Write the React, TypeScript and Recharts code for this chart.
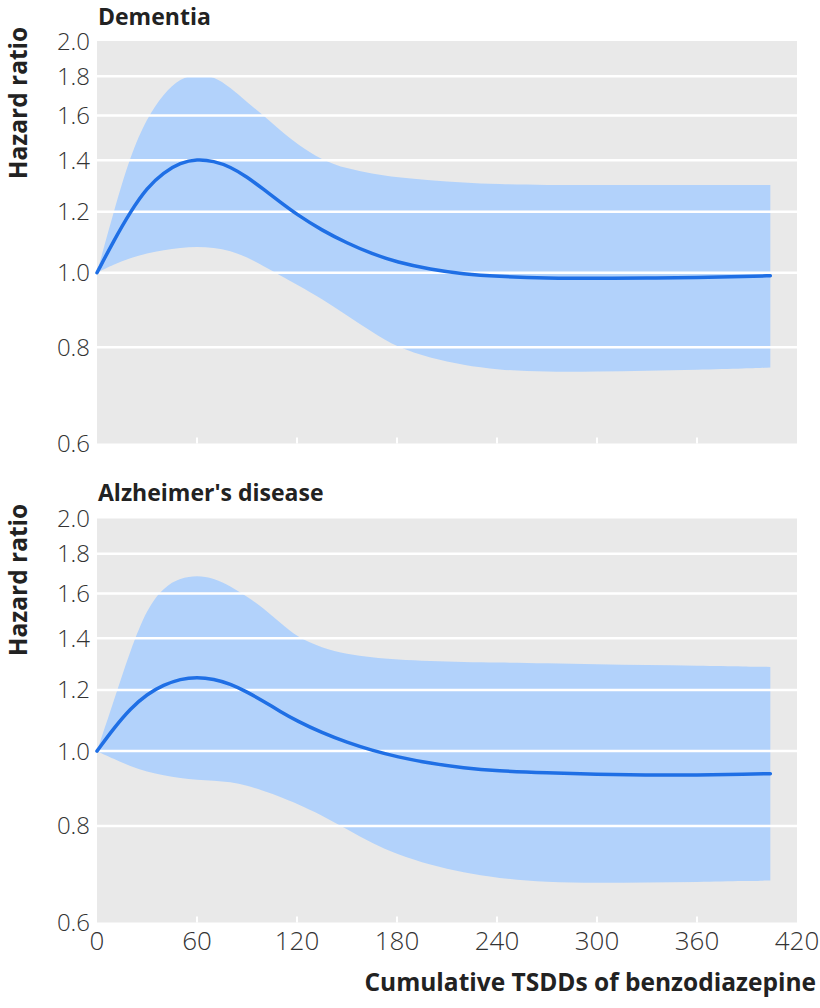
import {
  Area,
  CartesianGrid,
  ComposedChart,
  Line,
  ReferenceLine,
  XAxis,
  YAxis,
} from "recharts";

const doses = [
  0, 10, 20, 30, 40, 50, 60, 70, 80, 90, 100, 110, 120, 135, 150, 165, 180,
  200, 220, 240, 270, 300, 330, 360, 390, 404,
];

const dementiaHr = [
  1.0, 1.1, 1.2, 1.29, 1.35, 1.39, 1.405, 1.397, 1.373, 1.332, 1.283, 1.235,
  1.19, 1.135, 1.093, 1.058, 1.032, 1.01, 0.996, 0.989, 0.984, 0.983, 0.984,
  0.986, 0.989, 0.991,
];
const dementiaLow = [
  1.0, 1.025, 1.045, 1.06, 1.07, 1.078, 1.081, 1.078, 1.068, 1.048, 1.02,
  0.992, 0.965, 0.925, 0.88, 0.838, 0.8, 0.775, 0.758, 0.748, 0.743, 0.744,
  0.746, 0.748, 0.751, 0.753,
];
const dementiaHigh = [
  1.0, 1.2, 1.42, 1.59, 1.71, 1.79, 1.81, 1.8, 1.74, 1.665, 1.6, 1.53, 1.47,
  1.4, 1.365, 1.345, 1.33, 1.318, 1.31, 1.303, 1.3, 1.3, 1.3, 1.3, 1.3, 1.3,
];

const alzHr = [
  1.0, 1.07, 1.135, 1.185, 1.218, 1.24, 1.247, 1.24, 1.222, 1.193, 1.16,
  1.125, 1.094, 1.056, 1.026, 1.002, 0.983, 0.964, 0.951, 0.943, 0.937, 0.933,
  0.931, 0.931, 0.933, 0.935,
];
const alzLow = [
  1.0, 0.977, 0.956, 0.94, 0.93, 0.922, 0.918, 0.916, 0.912, 0.903, 0.888,
  0.873, 0.855, 0.826, 0.792, 0.76, 0.735, 0.712, 0.696, 0.685, 0.676, 0.675,
  0.676, 0.677, 0.679, 0.68,
];
const alzHigh = [
  1.0, 1.16, 1.35, 1.53, 1.63, 1.675, 1.688, 1.675, 1.635, 1.585, 1.53, 1.465,
  1.405, 1.36, 1.335, 1.322, 1.313, 1.307, 1.304, 1.302, 1.3, 1.295, 1.292,
  1.29, 1.287, 1.285,
];

const xTicks = [0, 60, 120, 180, 240, 300, 360, 420];
const yTicks = [0.6, 0.8, 1.0, 1.2, 1.4, 1.6, 1.8, 2.0];
const gridValues = [0.8, 1.0, 1.2, 1.4, 1.6, 1.8];

const FONT = "'Open Sans', 'Noto Sans', sans-serif";
const BG = "#e9e9e9";
const BAND = "#b2d2fb";
const LINE = "#1f6fe5";
const TEXT = "#222";

function buildRows(hr: number[], low: number[], high: number[]) {
  return doses.map((d, i) => ({ dose: d, hr: hr[i], band: [low[i], high[i]] }));
}

function DoseTick(props: any) {
  const { x, y, payload, showLabel } = props;
  const v = payload.value as number;
  const inner = v !== xTicks[0] && v !== xTicks[xTicks.length - 1];
  return (
    <g>
      {inner && (
        <line x1={x} x2={x} y1={y} y2={y - 6} stroke="#fff" strokeWidth={2} />
      )}
      {showLabel && (
        <text
          x={x}
          y={y + 9}
          dy="0.71em"
          textAnchor="middle"
          fontFamily={FONT}
          fontWeight={300}
          fontSize={26}
          fill="#333"
        >
          {v}
        </text>
      )}
    </g>
  );
}

interface PanelProps {
  rows: { dose: number; hr: number; band: number[] }[];
  height: number;
  top: number;
  xAxisHeight: number;
  showLabels: boolean;
}

function Panel({ rows, height, top, xAxisHeight, showLabels }: PanelProps) {
  return (
    <ComposedChart
      width={820}
      height={height}
      data={rows}
      margin={{ top, right: 23, bottom: 0, left: 0 }}
    >
      <CartesianGrid horizontal={false} vertical={false} fill={BG} />
      <XAxis
        dataKey="dose"
        type="number"
        domain={[0, 420]}
        ticks={xTicks}
        height={xAxisHeight}
        axisLine={false}
        tickLine={false}
        tickSize={0}
        tickMargin={0}
        interval={0}
        tick={<DoseTick showLabel={showLabels} />}
      />
      <YAxis
        scale="log"
        domain={[0.6, 2.0]}
        ticks={yTicks}
        allowDataOverflow
        width={97}
        axisLine={false}
        tickLine={false}
        tickSize={6}
        tickMargin={1}
        interval={0}
        tickFormatter={(v: number) => v.toFixed(1)}
        tick={{ fontSize: 24, fill: "#333", fontFamily: FONT, fontWeight: 300 }}
      />
      <Area
        dataKey="band"
        type="basis"
        stroke="none"
        fill={BAND}
        fillOpacity={1}
        isAnimationActive={false}
      />
      {gridValues.map((v) => (
        <ReferenceLine key={v} y={v} stroke="#fff" strokeWidth={2.5} />
      ))}
      <Line
        dataKey="hr"
        type="basis"
        stroke={LINE}
        strokeWidth={3.5}
        strokeLinecap="round"
        dot={false}
        activeDot={false}
        isAnimationActive={false}
      />
    </ComposedChart>
  );
}

export default function App() {
  const titleStyle = {
    fontFamily: FONT,
    fontWeight: 700,
    fontSize: 23,
    fill: TEXT,
  };
  return (
    <div
      style={{
        position: "absolute",
        left: 0,
        top: 0,
        width: 820,
        height: 1008,
        background: "#fff",
      }}
    >
      <div style={{ position: "absolute", left: 0, top: 0 }}>
        <Panel
          rows={buildRows(dementiaHr, dementiaLow, dementiaHigh)}
          height={470}
          top={41}
          xAxisHeight={26.5}
          showLabels={false}
        />
      </div>
      <div style={{ position: "absolute", left: 0, top: 470 }}>
        <Panel
          rows={buildRows(alzHr, alzLow, alzHigh)}
          height={538}
          top={48.5}
          xAxisHeight={85.5}
          showLabels
        />
      </div>
      <svg
        width={820}
        height={1008}
        style={{ position: "absolute", left: 0, top: 0, pointerEvents: "none" }}
      >
        <text x={98} y={25} {...titleStyle}>
          Dementia
        </text>
        <text x={98} y={501} {...titleStyle}>
          Alzheimer's disease
        </text>
        <text
          transform="translate(26.5,103) rotate(-90)"
          textAnchor="middle"
          {...titleStyle}
          fontSize={24.5}
        >
          Hazard ratio
        </text>
        <text
          transform="translate(26.5,580) rotate(-90)"
          textAnchor="middle"
          {...titleStyle}
          fontSize={24.5}
        >
          Hazard ratio
        </text>
        <text x={816} y={991} textAnchor="end" {...titleStyle} fontSize={24.5}>
          Cumulative TSDDs of benzodiazepine
        </text>
      </svg>
    </div>
  );
}
